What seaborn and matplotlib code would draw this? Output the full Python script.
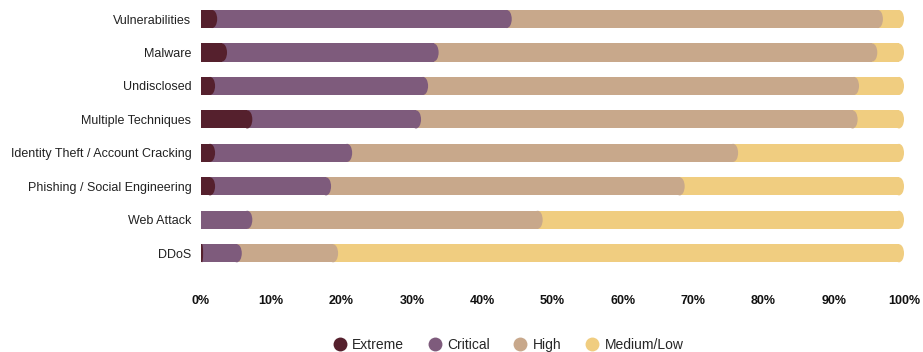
import matplotlib
matplotlib.use("Agg")
import matplotlib.pyplot as plt
from matplotlib.patches import Ellipse
from matplotlib.lines import Line2D
import numpy as np
import pandas as pd
import seaborn as sns

# Attack types (top to bottom) and share of incidents by severity, in percent
categories = [
    "Vulnerabilities",
    "Malware",
    "Undisclosed",
    "Multiple Techniques",
    "Identity Theft / Account Cracking",
    "Phishing / Social Engineering",
    "Web Attack",
    "DDoS",
]
extreme = [2.3, 3.7, 2.0, 7.3, 2.0, 2.0, 0.0, 0.3]
critical = [41.9, 30.1, 30.3, 24.0, 19.5, 16.5, 7.3, 5.5]
high = [52.8, 62.4, 61.3, 62.1, 54.9, 50.3, 41.3, 13.7]
medium_low = [3.0, 3.8, 6.4, 6.6, 23.6, 31.2, 51.4, 80.5]

severities = ["Extreme", "Critical", "High", "Medium/Low"]
colors = ["#55202d", "#7e5b7c", "#c8a88b", "#f0cd80"]
tick_values = [0, 10, 20, 30, 40, 50, 60, 70, 80, 90, 100]

sns.set_theme(style="white")
plt.rcParams["font.family"] = ["Liberation Sans", "DejaVu Sans"]

df = pd.DataFrame(
    {"category": categories, "Extreme": extreme, "Critical": critical,
     "High": high, "Medium/Low": medium_low}
)
cum = df[severities].cumsum(axis=1)

x0_px, x100_px = 201, 904
fig = plt.figure(figsize=(9.23, 3.52), dpi=100)
ax = fig.add_axes([x0_px / 923, 1 - 270 / 352, (x100_px - x0_px) / 923, (270 - 2.3) / 352])

bar_h = 0.54
cap_px = 5.0  # horizontal radius of the rounded segment ends, in pixels
px_per_unit = (x100_px - x0_px) / 100.0

# Draw cumulative layers from the longest (Medium/Low) to the shortest (Extreme);
# each segment ends in a rounded cap whose tip sits at the cumulative value
for layer in range(len(severities) - 1, -1, -1):
    sev = severities[layer]
    n_before = len(ax.patches)
    layer_df = pd.DataFrame({"category": categories, "value": cum[sev].values})
    sns.barplot(data=layer_df, x="value", y="category", orient="h",
                color=colors[layer], width=bar_h, saturation=1, ax=ax,
                linewidth=0, zorder=10 - layer)
    new_patches = ax.patches[n_before:]
    seg_vals = df[sev].values
    for p, seg in zip(new_patches, seg_vals):
        p.set_zorder(10 - layer)
        if seg <= 0:
            continue
        r = min(cap_px / px_per_unit, seg / 2)
        p.set_width(p.get_width() - r)
        x_end = p.get_x() + p.get_width()
        yc = p.get_y() + p.get_height() / 2
        ax.add_patch(Ellipse((x_end, yc), 2 * r, p.get_height(),
                             facecolor=colors[layer], edgecolor="none",
                             zorder=10 - layer, clip_on=False))

ax.set_xlim(0, 100)
ax.set_ylim(len(categories) - 0.5, -0.5)
ax.set_xticks(tick_values)
ax.set_xticklabels([f"{v}%" for v in tick_values], fontsize=9, fontweight="bold",
                   color="#111111")
ax.tick_params(axis="x", length=0, pad=18)
ax.tick_params(axis="y", length=0, pad=7, labelsize=9, labelcolor="#222222")
ax.set_xlabel("")
ax.set_ylabel("")
for s in ax.spines.values():
    s.set_visible(False)
ax.grid(False)

handles = [Line2D([0], [0], marker="o", linestyle="none", markersize=10,
                  markerfacecolor=c, markeredgecolor="none") for c in colors]
fig.legend(handles, severities, loc="center", ncol=4, frameon=False,
           bbox_to_anchor=(508 / 923, 1 - 345 / 352), fontsize=10,
           handletextpad=0.4, columnspacing=1.7, handlelength=1.0)

fig.savefig("out.png", dpi=100)
